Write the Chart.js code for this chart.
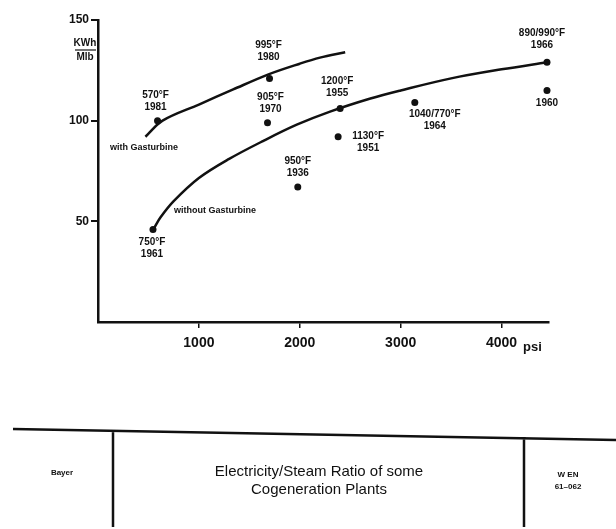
<!DOCTYPE html>
<html lang="en">
<head>
<meta charset="UTF-8">
<title>Electricity/Steam Ratio of some Cogeneration Plants</title>
<script src="https://cdn.jsdelivr.net/npm/chart.js"></script>
<style>
  body { margin: 0; background: #fff; }
  canvas { display: block; }
</style>
</head>
<body>
<canvas id="ratioChart" width="616" height="529"></canvas>
<script>
// Datos (psi, KWh/Mlb)
const plantPsi   = [590, 1700, 1680, 1980, 2400, 2380, 3140, 4450, 4450, 545];
const plantRatio = [100, 121, 99, 67, 106, 92, 109, 129, 115, 46];
const plantTemp  = ['570°F', '995°F', '905°F', '950°F', '1200°F', '1130°F', '1040/770°F', '890/990°F', '', '750°F'];
const plantYear  = ['1981', '1980', '1970', '1936', '1955', '1951', '1964', '1966', '1960', '1961'];

// Curvas dibujadas a mano en el original
const withGasPsi   = [470, 640, 1000, 1340, 1690, 2000, 2200, 2450];
const withGasRatio = [92, 100, 108, 115.5, 123, 128.3, 131.3, 134];
const withoutGasPsi   = [560, 620, 750, 1000, 1300, 1640, 1970, 2300, 2700, 3000, 3500, 4000, 4450];
const withoutGasRatio = [47, 52, 60, 71.5, 81, 90, 98, 104.5, 111, 115, 121, 125.5, 129];

const xTicks = [1000, 2000, 3000, 4000];
const yTicks = [50, 100, 150];

// Posicion de las etiquetas respecto al punto (px), no son datos
const labelOffset = [[-2, -25], [-1, -33], [3, -25], [0, -26], [-3, -27], [30, -1], [20, 12], [-5, -29], [0, 13], [-1, 13]];

const ink = '#111';
const toXY = (xs, ys) => xs.map((x, i) => ({ x: x, y: ys[i] }));

const labelPlugin = {
  id: 'labels',
  afterDraw(chart) {
    const ctx = chart.ctx;
    const meta = chart.getDatasetMeta(2);
    ctx.save();
    ctx.fillStyle = ink;
    ctx.textAlign = 'center';
    ctx.textBaseline = 'middle';
    ctx.font = 'bold 10px "Liberation Sans", Arial, sans-serif';
    meta.data.forEach((pt, i) => {
      const cx = pt.x + labelOffset[i][0];
      const cy = pt.y + labelOffset[i][1];
      if (plantTemp[i]) {
        ctx.fillText(plantTemp[i], cx, cy);
        ctx.fillText(plantYear[i], cx, cy + 12);
      } else {
        ctx.fillText(plantYear[i], cx, cy);
      }
    });

    // textos de las curvas
    ctx.textAlign = 'left';
    ctx.font = 'bold 9px "Liberation Sans", Arial, sans-serif';
    ctx.fillText('with Gasturbine', 110, 148);
    ctx.fillText('without Gasturbine', 174, 211);

    // unidad eje y
    ctx.textAlign = 'center';
    ctx.font = 'bold 10px "Liberation Sans", Arial, sans-serif';
    ctx.fillText('KWh', 85, 43);
    ctx.fillText('Mlb', 85, 57);
    ctx.lineWidth = 1.2;
    ctx.strokeStyle = ink;
    ctx.beginPath();
    ctx.moveTo(75, 50);
    ctx.lineTo(96, 50);
    ctx.stroke();

    // unidad eje x
    ctx.textAlign = 'left';
    ctx.font = 'bold 13px "Liberation Sans", Arial, sans-serif';
    ctx.fillText('psi', 523, 347);

    // cajetin inferior
    ctx.lineWidth = 2.5;
    ctx.beginPath();
    ctx.moveTo(13, 429);
    ctx.lineTo(616, 440);
    ctx.moveTo(113, 430);
    ctx.lineTo(113, 527);
    ctx.moveTo(524, 437);
    ctx.lineTo(524, 527);
    ctx.stroke();

    ctx.textAlign = 'center';
    ctx.font = 'bold 8px "Liberation Sans", Arial, sans-serif';
    ctx.fillText('Bayer', 62, 473);
    ctx.fillText('W EN', 568, 475);
    ctx.fillText('61–062', 568, 487);

    ctx.font = '15px "Liberation Sans", Arial, sans-serif';
    ctx.fillText('Electricity/Steam Ratio of some', 319, 472);
    ctx.fillText('Cogeneration Plants', 319, 490);
    ctx.restore();
  }
};

new Chart(document.getElementById('ratioChart'), {
  type: 'scatter',
  data: {
    datasets: [{
      type: 'line',
      label: 'with Gasturbine',
      data: toXY(withGasPsi, withGasRatio),
      borderColor: ink,
      borderWidth: 2.5,
      pointRadius: 0,
      tension: 0.35,
      fill: false
    }, {
      type: 'line',
      label: 'without Gasturbine',
      data: toXY(withoutGasPsi, withoutGasRatio),
      borderColor: ink,
      borderWidth: 2.5,
      pointRadius: 0,
      tension: 0.35,
      fill: false
    }, {
      label: 'Plants',
      data: toXY(plantPsi, plantRatio),
      backgroundColor: ink,
      borderColor: ink,
      borderWidth: 0,
      pointRadius: 3.5,
      clip: false
    }]
  },
  options: {
    responsive: false,
    animation: false,
    plugins: {
      legend: { display: false },
      tooltip: { enabled: false }
    },
    layout: {
      padding: { left: 0, top: 20, right: 67, bottom: 177 }
    },
    scales: {
      x: {
        type: 'linear',
        min: 0,
        max: 4470,
        afterBuildTicks: s => { s.ticks = xTicks.map(v => ({ value: v })); },
        afterFit: s => { s.height = 30; },
        grid: { drawOnChartArea: false, drawTicks: true, tickLength: 6, color: ink, lineWidth: 1.5 },
        border: { color: ink, width: 2.5 },
        ticks: {
          color: ink,
          padding: 7,
          maxRotation: 0,
          callback: v => String(v),
          font: { family: '"Liberation Sans", Arial, sans-serif', size: 14, weight: 'bold' }
        }
      },
      y: {
        min: 0,
        max: 150,
        afterBuildTicks: s => { s.ticks = yTicks.map(v => ({ value: v })); },
        afterFit: s => { s.width = 98; },
        grid: { drawOnChartArea: false, drawTicks: true, tickLength: 7, color: ink, lineWidth: 2 },
        border: { color: ink, width: 2.5 },
        ticks: {
          color: ink,
          padding: 2,
          callback: v => String(v),
          font: { family: '"Liberation Sans", Arial, sans-serif', size: 12, weight: 'bold' }
        }
      }
    }
  },
  plugins: [labelPlugin]
});
</script>
</body>
</html>
